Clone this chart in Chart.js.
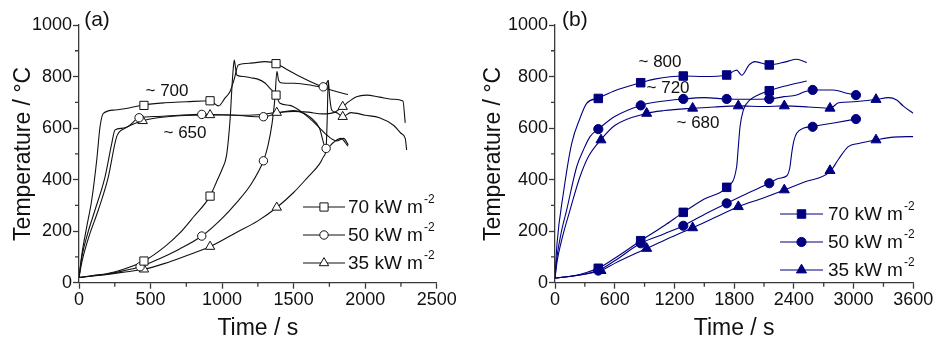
<!DOCTYPE html>
<html>
<head>
<meta charset="utf-8">
<script src="https://cdn.jsdelivr.net/npm/chart.js@4.4.1/dist/chart.umd.min.js"></script>
<style>
  html, body { margin: 0; padding: 0; background: #fff; }
  #wrap { position: relative; width: 940px; height: 342px; }
  .panel { position: absolute; top: 0; width: 470px; height: 342px; }
</style>
</head>
<body>
<div id="wrap">
  <div class="panel" style="left:0"><canvas id="chartA" width="470" height="342"></canvas></div>
  <div class="panel" style="left:470px"><canvas id="chartB" width="470" height="342"></canvas></div>
</div>
<script>
// ---- labels ----
var fluxLabels = ['70 kW m', '50 kW m', '35 kW m'];
var fluxSup = '-2';
var xTitle = 'Time / s';
var yTitle = 'Temperature / \u00b0C';

// ---- ticks ----
var yTicks = [0, 200, 400, 600, 800, 1000];
var yMinor = [100, 300, 500, 700, 900];
var aTicksX = [0, 500, 1000, 1500, 2000, 2500];
var aMinorX = [250, 750, 1250, 1750, 2250];
var bTicksX = [0, 600, 1200, 1800, 2400, 3000, 3600];
var bMinorX = [300, 900, 1500, 2100, 2700, 3300];

// ---- panel (a) curves: surface (s) and back (b) ----
var a70sT = [0, 20, 54, 89, 124, 147, 170, 252, 350, 454, 600, 750, 916, 975, 1020, 1055, 1085, 1113, 1200, 1300, 1377, 1450, 1544, 1650, 1750, 1880];
var a70sY = [20, 110, 217, 321, 476, 605, 657, 670, 678, 690, 698, 702, 706, 686, 716, 741, 790, 845, 852, 858, 851, 828, 800, 772, 750, 730];
var a70bT = [0, 100, 200, 300, 454, 600, 700, 800, 916, 960, 1000, 1030, 1045, 1058, 1068, 1078, 1085, 1095, 1102, 1150, 1200, 1250, 1300, 1335, 1377, 1405, 1474, 1550, 1637, 1700, 1731, 1800, 1850, 1882];
var a70bY = [20, 28, 36, 50, 84, 140, 190, 255, 336, 390, 440, 490, 560, 650, 750, 830, 864, 830, 806, 800, 795, 790, 775, 754, 728, 696, 688, 665, 625, 590, 573, 550, 560, 535];
var a50sT = [0, 20, 60, 112, 182, 229, 252, 298, 340, 420, 550, 700, 858, 1000, 1100, 1200, 1289, 1400, 1500, 1560, 1620, 1680, 1727, 1780, 1830, 1880];
var a50sY = [20, 100, 190, 282, 411, 541, 593, 599, 605, 640, 645, 650, 653, 652, 650, 645, 644, 660, 668, 660, 640, 600, 521, 545, 560, 530];
var a50bT = [0, 100, 200, 300, 427, 550, 700, 858, 1000, 1100, 1200, 1289, 1320, 1350, 1370, 1383, 1395, 1420, 1500, 1600, 1707, 1742];
var a50bY = [20, 27, 34, 45, 62, 90, 130, 181, 250, 310, 380, 473, 530, 620, 720, 820, 785, 775, 774, 768, 760, 785];
var a35sT = [0, 20, 70, 135, 205, 263, 321, 445, 550, 700, 916, 1100, 1250, 1382, 1500, 1600, 1700, 1780, 1843, 1870, 1940, 2010, 2100, 2200, 2264, 2280];
var a35sY = [20, 80, 180, 282, 411, 566, 599, 628, 640, 648, 651, 650, 652, 660, 665, 662, 655, 660, 683, 696, 722, 728, 720, 712, 705, 620];
var a35bT = [0, 100, 200, 300, 454, 600, 750, 916, 1100, 1250, 1382, 1500, 1600, 1680, 1710, 1727, 1735, 1742, 1752, 1766, 1800, 1843, 1900, 2000, 2100, 2200, 2250, 2280, 2290];
var a35bY = [20, 26, 32, 40, 52, 75, 105, 140, 195, 240, 292, 350, 410, 460, 490, 521, 640, 785, 720, 670, 660, 644, 660, 650, 640, 610, 580, 560, 515];

// panel (a) marker positions
var a70mT = [454, 916, 1377, 454, 916, 1377];
var a70mY = [688, 706, 850, 84, 336, 728];
var a50mT = [420, 858, 1289, 1727, 427, 858, 1289, 1707];
var a50mY = [640, 653, 644, 521, 62, 181, 473, 760];
var a35mT = [445, 916, 1382, 1843, 454, 916, 1382, 1843];
var a35mY = [628, 651, 660, 683, 52, 140, 292, 644];

// ---- panel (b) curves ----
var b70sT = [0, 20, 84, 168, 251, 318, 435, 600, 861, 1000, 1289, 1500, 1725, 1825, 1876, 1950, 2009, 2153, 2328, 2428, 2529];
var b70sY = [18, 150, 347, 541, 638, 696, 716, 745, 776, 790, 802, 800, 806, 825, 805, 845, 858, 845, 858, 867, 854];
var b70bT = [0, 100, 200, 300, 435, 600, 861, 1100, 1289, 1500, 1725, 1825, 1842, 1859, 1892, 1959, 2050, 2153, 2300, 2529];
var b70bY = [18, 22, 28, 38, 56, 95, 163, 222, 273, 325, 370, 450, 528, 605, 670, 709, 730, 745, 762, 783];
var b50sT = [0, 20, 60, 117, 218, 285, 352, 435, 600, 861, 1000, 1289, 1500, 1725, 1900, 2153, 2300, 2428, 2500, 2589, 2796, 2931, 3024];
var b50sY = [18, 100, 190, 282, 450, 515, 567, 596, 645, 688, 700, 713, 718, 713, 712, 713, 722, 728, 740, 748, 748, 735, 728];
var b50bT = [0, 100, 200, 300, 435, 600, 861, 1100, 1289, 1500, 1725, 1950, 2153, 2250, 2330, 2361, 2378, 2400, 2428, 2500, 2589, 2800, 3024];
var b50bY = [18, 22, 27, 34, 47, 85, 153, 190, 221, 265, 308, 350, 386, 405, 415, 450, 502, 550, 580, 600, 606, 620, 635];
var b35sT = [0, 20, 70, 151, 251, 335, 459, 600, 921, 1100, 1383, 1600, 1842, 2100, 2304, 2550, 2763, 2850, 3000, 3225, 3350, 3433, 3500, 3600];
var b35sY = [18, 80, 170, 282, 411, 489, 554, 610, 657, 668, 677, 682, 686, 684, 686, 682, 677, 698, 702, 711, 718, 709, 685, 657];
var b35bT = [0, 100, 200, 300, 462, 600, 921, 1100, 1383, 1600, 1842, 2100, 2304, 2500, 2763, 2850, 2947, 3050, 3225, 3400, 3600];
var b35bY = [18, 22, 27, 33, 47, 75, 133, 165, 213, 252, 295, 330, 360, 390, 431, 480, 528, 540, 554, 565, 567];

// panel (b) marker positions
var b70mT = [435, 861, 1289, 1725, 2153, 435, 861, 1289, 1725, 2153];
var b70mY = [715, 776, 802, 806, 845, 56, 163, 273, 370, 745];
var b50mT = [435, 861, 1289, 1725, 2153, 2589, 3024, 435, 861, 1289, 1725, 2153, 2589, 3024];
var b50mY = [596, 688, 713, 713, 713, 748, 728, 47, 153, 221, 308, 386, 605, 635];
var b35mT = [462, 921, 1383, 1842, 2304, 2763, 3225, 462, 921, 1383, 1842, 2304, 2763, 3225];
var b35mY = [554, 657, 677, 686, 686, 677, 711, 47, 133, 213, 295, 360, 435, 554];

var axisColor = '#3a3a3a';
var fontFamily = '"Liberation Sans", Arial, sans-serif';
Chart.defaults.font.family = fontFamily;
Chart.defaults.color = '#111';

function pts(ts, ys) {
    return ts.map(function(t, i) { return {x: t, y: ys[i]}; });
}

function lineSet(ts, ys, color) {
    return {
        data: pts(ts, ys),
        showLine: true,
        borderColor: color,
        borderWidth: 1.1,
        pointRadius: 0,
        cubicInterpolationMode: 'monotone',
        order: 2
    };
}

function markSet(ts, ys, style, radius, fill, color) {
    return {
        data: pts(ts, ys),
        showLine: false,
        pointStyle: style,
        pointRadius: radius,
        pointBackgroundColor: fill,
        pointBorderColor: color,
        pointBorderWidth: 1,
        order: 1
    };
}

function plainNum(v) { return String(v); }

// minor ticks, notes and the legend are drawn here
var extras = {
    id: 'extras',
    afterDraw: function(chart, args, o) {
        var ctx = chart.ctx, xs = chart.scales.x, ys = chart.scales.y, area = chart.chartArea;
        ctx.save();
        ctx.strokeStyle = axisColor;
        ctx.lineWidth = 1.3;
        ctx.beginPath();
        o.minorX.forEach(function(v) {
            var p = xs.getPixelForValue(v);
            ctx.moveTo(p, area.bottom); ctx.lineTo(p, area.bottom + 4);
        });
        yMinor.forEach(function(v) {
            var p = ys.getPixelForValue(v);
            ctx.moveTo(area.left, p); ctx.lineTo(area.left - 4, p);
        });
        ctx.stroke();

        // notes
        ctx.fillStyle = '#111';
        ctx.textAlign = 'center';
        ctx.textBaseline = 'middle';
        o.notes.forEach(function(n) {
            ctx.font = n.size + 'px ' + fontFamily;
            ctx.fillText(n.text, xs.getPixelForValue(n.x), ys.getPixelForValue(n.y));
        });

        // legend
        var lg = o.legend;
        lg.rows.forEach(function(ry, i) {
            ctx.strokeStyle = o.color;
            ctx.lineWidth = 1.1;
            ctx.beginPath();
            ctx.moveTo(lg.x0, ry); ctx.lineTo(lg.x1, ry);
            ctx.stroke();
            ctx.fillStyle = o.fill;
            ctx.strokeStyle = o.color;
            ctx.lineWidth = 1;
            Chart.helpers.drawPoint(ctx, {pointStyle: o.styles[i], radius: o.radii[i], rotation: 0, borderWidth: 1}, (lg.x0 + lg.x1) / 2, ry);
            ctx.fillStyle = '#111';
            ctx.textAlign = 'left';
            ctx.textBaseline = 'middle';
            ctx.font = '19px ' + fontFamily;
            ctx.fillText(fluxLabels[i], lg.tx, ry + 1);
            var w = ctx.measureText(fluxLabels[i]).width;
            ctx.font = '12px ' + fontFamily;
            ctx.fillText(fluxSup, lg.tx + w + 1, ry - 7);
        });
        ctx.restore();
    }
};

function makePanel(id, cfg) {
    var ctx = document.getElementById(id).getContext('2d');
    return new Chart(ctx, {
        type: 'scatter',
        data: { datasets: cfg.datasets },
        plugins: [extras],
        options: {
            responsive: false,
            animation: false,
            events: [],
            layout: { padding: { top: 25, right: cfg.padRight, left: 0, bottom: 0 } },
            plugins: {
                legend: { display: false },
                tooltip: { enabled: false },
                extras: cfg.extras
            },
            scales: {
                x: {
                    type: 'linear',
                    min: cfg.ticksX[0],
                    max: cfg.ticksX[cfg.ticksX.length - 1],
                    afterBuildTicks: function(scale) {
                        scale.ticks = cfg.ticksX.map(function(v) { return {value: v}; });
                    },
                    afterFit: function(scale) { scale.height = 59.3; },
                    ticks: { font: { size: 18 }, color: '#111', padding: 1, maxRotation: 0, autoSkip: false, callback: plainNum },
                    grid: { drawOnChartArea: false, drawTicks: true, tickLength: 6, tickColor: axisColor, tickWidth: 1.3 },
                    border: { color: axisColor, width: 1.3 },
                    title: { display: true, text: xTitle, font: { size: 23 }, color: '#111', padding: { top: 0, bottom: 0 } }
                },
                y: {
                    type: 'linear',
                    min: 0,
                    max: 1000,
                    afterBuildTicks: function(scale) {
                        scale.ticks = yTicks.map(function(v) { return {value: v}; });
                    },
                    afterFit: function(scale) { scale.width = cfg.yWidth; },
                    ticks: { font: { size: 18 }, color: '#111', padding: 1, autoSkip: false, callback: plainNum },
                    grid: { drawOnChartArea: false, drawTicks: true, tickLength: 6, tickColor: axisColor, tickWidth: 1.3 },
                    border: { color: axisColor, width: 1.3 },
                    title: { display: true, text: yTitle, font: { size: 23 }, color: '#111', padding: { top: 10, bottom: 0 } }
                }
            }
        }
    });
}

//panel a
var black = '#111';
makePanel('chartA', {
    padRight: 33.3,
    yWidth: 79,
    ticksX: aTicksX,
    datasets: [
        markSet(a70mT, a70mY, 'rect', 5.8, '#fff', black),
        markSet(a50mT, a50mY, 'circle', 4.2, '#fff', black),
        markSet(a35mT, a35mY, 'triangle', 5.4, '#fff', black),
        lineSet(a70sT, a70sY, black),
        lineSet(a70bT, a70bY, black),
        lineSet(a50sT, a50sY, black),
        lineSet(a50bT, a50bY, black),
        lineSet(a35sT, a35sY, black),
        lineSet(a35bT, a35bY, black)
    ],
    extras: {
        minorX: aMinorX,
        color: black,
        fill: '#fff',
        styles: ['rect', 'circle', 'triangle'],
        radii: [5.8, 4.2, 5.4],
        notes: [
            {text: '(a)', x: 126, y: 1020, size: 21},
            {text: '~ 700', x: 615, y: 741, size: 17},
            {text: '~ 650', x: 741, y: 581, size: 17}
        ],
        legend: { x0: 303, x1: 345, tx: 348, rows: [207, 235, 263] }
    }
});

//panel b
var navy = '#000080';
makePanel('chartB', {
    padRight: 26.7,
    yWidth: 85,
    ticksX: bTicksX,
    datasets: [
        markSet(b70mT, b70mY, 'rect', 6, navy, navy),
        markSet(b50mT, b50mY, 'circle', 4.6, navy, navy),
        markSet(b35mT, b35mY, 'triangle', 5.8, navy, navy),
        lineSet(b70sT, b70sY, navy),
        lineSet(b70bT, b70bY, navy),
        lineSet(b50sT, b50sY, navy),
        lineSet(b50bT, b50bY, navy),
        lineSet(b35sT, b35sY, navy),
        lineSet(b35bT, b35bY, navy)
    ],
    extras: {
        minorX: bMinorX,
        color: navy,
        fill: navy,
        styles: ['rect', 'circle', 'triangle'],
        radii: [6, 4.6, 5.8],
        notes: [
            {text: '(b)', x: 200, y: 1020, size: 21},
            {text: '~ 800', x: 1055, y: 856, size: 17},
            {text: '~ 720', x: 1136, y: 755, size: 17},
            {text: '~ 680', x: 1437, y: 620, size: 17}
        ],
        legend: { x0: 310, x1: 353, tx: 358, rows: [214, 242, 270] }
    }
});
</script>
</body>
</html>
